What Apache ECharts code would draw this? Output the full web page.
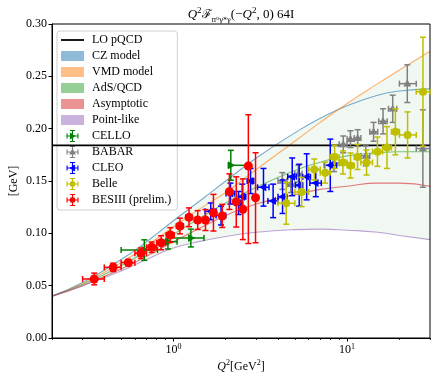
<!DOCTYPE html>
<html>
<head>
<meta charset="utf-8">
<script src="https://cdn.jsdelivr.net/npm/echarts@6/dist/echarts.min.js"></script>
<style>
  html, body { margin: 0; padding: 0; background: #fff; }
  #chart { width: 438px; height: 382px; }
</style>
</head>
<body>
<div id="chart"></div>
<script>
// model curves at these Q^2 values [GeV^2]
const qModel     = [0.2, 0.3, 0.5, 0.7, 1, 1.5, 2, 3, 5, 7, 10, 15, 20, 30];
const czModel    = [0.040, 0.053, 0.075, 0.092, 0.112, 0.134, 0.150, 0.172, 0.196, 0.210, 0.222, 0.232, 0.236, 0.238];
const vmdModel   = [0.040, 0.052, 0.072, 0.088, 0.106, 0.126, 0.139, 0.161, 0.188, 0.206, 0.224, 0.243, 0.256, 0.274];
const adsModel   = [0.040, 0.051, 0.069, 0.083, 0.099, 0.117, 0.129, 0.144, 0.160, 0.168, 0.174, 0.177, 0.178, 0.178];
const asymModel  = [0.040, 0.050, 0.066, 0.078, 0.092, 0.107, 0.117, 0.128, 0.137, 0.142, 0.145, 0.148, 0.148, 0.145];
const pointModel = [0.040, 0.050, 0.064, 0.075, 0.086, 0.093, 0.097, 0.101, 0.1035, 0.104, 0.103, 0.101, 0.098, 0.094];
const loPQCD = 0.184;

// CELLO
const celloQ   = [0.68, 0.93, 1.26, 2.14];
const celloY   = [0.084, 0.092, 0.0955, 0.165];
const celloErr = [0.0098, 0.007, 0.0085, 0.0143];
const celloQLo = [0.50, 0.85, 0.92, 2.07];
const celloQHi = [0.81, 1.05, 1.50, 2.66];

// BABAR
const babarQ   = [4.24, 4.74, 5.24, 8.40, 9.50, 10.45, 11.5, 12.8, 14.2, 16.1, 18.3, 22.2, 27.3];
const babarY   = [0.150, 0.147, 0.157, 0.167, 0.185, 0.190, 0.191, 0.174, 0.197, 0.207, 0.219, 0.243, 0.181];
const babarErr = [0.008, 0.008, 0.008, 0.008, 0.008, 0.008, 0.008, 0.0095, 0.009, 0.012, 0.013, 0.018, 0.037];
const babarQLo = [4.0, 4.5, 5.0, 8.0, 9.0, 10.0, 11.0, 12.0, 13.5, 15.2, 17.3, 20.0, 25.0];
const babarQHi = [4.5, 5.0, 5.5, 9.0, 10.0, 11.0, 12.0, 13.5, 15.0, 17.0, 19.3, 25.0, 30.0];

// CLEO
const cleoQ   = [1.64, 1.88, 2.13, 2.37, 2.49, 2.78, 3.30, 3.75, 4.25, 4.83, 5.30, 5.85, 6.60, 8.0];
const cleoY   = [0.121, 0.117, 0.138, 0.129, 0.135, 0.150, 0.144, 0.131, 0.135, 0.154, 0.146, 0.154, 0.148, 0.165];
const cleoErr = [0.008, 0.009, 0.010, 0.011, 0.012, 0.012, 0.018, 0.016, 0.016, 0.018, 0.020, 0.022, 0.013, 0.025];
const cleoQLo = [1.52, 1.76, 2.01, 2.25, 2.37, 2.66, 3.05, 3.50, 4.0, 4.55, 5.05, 5.55, 6.1, 7.4];
const cleoQHi = [1.76, 2.00, 2.25, 2.49, 2.61, 2.90, 3.55, 4.00, 4.5, 5.10, 5.55, 6.15, 7.1, 8.7];

// Belle
const belleQ   = [4.46, 5.47, 6.47, 7.47, 8.47, 9.46, 10.46, 11.48, 12.94, 14.95, 16.96, 18.96, 22.29, 27.33];
const belleY   = [0.1287, 0.1395, 0.161, 0.158, 0.173, 0.1677, 0.1648, 0.173, 0.1677, 0.178, 0.182, 0.197, 0.194, 0.2353];
const belleErr = [0.020, 0.014, 0.010, 0.010, 0.011, 0.011, 0.012, 0.012, 0.012, 0.014, 0.020, 0.022, 0.022, 0.052];
const belleQLo = [4, 5, 6, 7, 8, 9, 10, 11, 12, 14, 16, 18, 20, 25];
const belleQHi = [5, 6, 7, 8, 9, 10, 11, 12, 14, 16, 18, 20, 25, 30];

// BESIII (prelim.)
const besQ     = [0.35, 0.45, 0.55, 0.65, 0.75, 0.85, 0.96, 1.09, 1.23, 1.38, 1.53, 1.70, 1.91, 2.10, 2.30, 2.51, 2.70, 2.97];
const besY     = [0.0564, 0.0675, 0.0720, 0.0810, 0.0867, 0.0910, 0.0984, 0.1070, 0.1153, 0.1127, 0.1127, 0.1197, 0.1166, 0.1398, 0.1300, 0.1230, 0.1643, 0.1340];
const besErrLo = [0.0056, 0.004, 0.003, 0.005, 0.005, 0.0067, 0.007, 0.0075, 0.009, 0.009, 0.010, 0.0175, 0.011, 0.017, 0.024, 0.029, 0.074, 0.043];
const besErrHi = [0.0056, 0.004, 0.003, 0.005, 0.005, 0.0067, 0.007, 0.0075, 0.009, 0.009, 0.010, 0.0175, 0.011, 0.017, 0.024, 0.029, 0.049, 0.043];
const besQErr  = 0.05;

const FONT = 'Liberation Serif';

// envelope of all models (light green band)
const envLow  = qModel.map((q, i) => Math.min(czModel[i], vmdModel[i], adsModel[i], asymModel[i], pointModel[i]));
const envHigh = qModel.map((q, i) => Math.max(czModel[i], vmdModel[i], adsModel[i], asymModel[i], pointModel[i]));

const chart = echarts.init(document.getElementById('chart'));

function modelSeries(name, vals, color) {
  return {
    name: name, type: 'line', smooth: true, showSymbol: false, z: 2,
    data: qModel.map((q, i) => [q, vals[i]]),
    itemStyle: { color: color },
    lineStyle: { color: color, width: 1.1, opacity: 0.6 },
    silent: true
  };
}

function markerShape(kind, c, s, color) {
  const st = { fill: color };
  if (kind === 'circle') return { type: 'circle', shape: { cx: c[0], cy: c[1], r: s }, style: st };
  let pts;
  if (kind === 'up') pts = [[c[0], c[1] - s * 1.1], [c[0] + s, c[1] + s * 0.7], [c[0] - s, c[1] + s * 0.7]];
  else if (kind === 'left') pts = [[c[0] - s * 1.1, c[1]], [c[0] + s * 0.7, c[1] - s], [c[0] + s * 0.7, c[1] + s]];
  else pts = [[c[0] + s * 1.1, c[1]], [c[0] - s * 0.7, c[1] + s], [c[0] - s * 0.7, c[1] - s]];
  return { type: 'polygon', shape: { points: pts }, style: st };
}

function errSeries(name, color, kind, size, q, y, qLo, qHi, yLo, yHi) {
  const data = q.map((v, i) => [v, y[i], qLo[i], qHi[i], yLo[i], yHi[i]]);
  return {
    name: name, type: 'custom', z: 6, data: data,
    encode: { x: 0, y: 1 },
    itemStyle: { color: color },
    renderItem: function (params, api) {
      const yv = api.value(1);
      const c = api.coord([api.value(0), yv]);
      const l = api.coord([api.value(2), yv]);
      const r = api.coord([api.value(3), yv]);
      const b = api.coord([api.value(0), api.value(4)]);
      const t = api.coord([api.value(0), api.value(5)]);
      const st = { stroke: color, lineWidth: 1.5 };
      const cap = 3;
      return {
        type: 'group',
        children: [
          { type: 'line', shape: { x1: l[0], y1: c[1], x2: r[0], y2: c[1] }, style: st },
          { type: 'line', shape: { x1: c[0], y1: b[1], x2: c[0], y2: t[1] }, style: st },
          { type: 'line', shape: { x1: l[0], y1: c[1] - cap, x2: l[0], y2: c[1] + cap }, style: st },
          { type: 'line', shape: { x1: r[0], y1: c[1] - cap, x2: r[0], y2: c[1] + cap }, style: st },
          { type: 'line', shape: { x1: c[0] - cap, y1: b[1], x2: c[0] + cap, y2: b[1] }, style: st },
          { type: 'line', shape: { x1: c[0] - cap, y1: t[1], x2: c[0] + cap, y2: t[1] }, style: st },
          markerShape(kind, c, size, color)
        ]
      };
    }
  };
}

function errIcon(kind) {
  const bars = 'M7.3 1H8.7V15H7.3Z M1 7.3H15V8.7H1Z M5 1H11V2.3H5Z M5 13.7H11V15H5Z M1 5H2.3V11H1Z M13.7 5H15V11H13.7Z';
  let m;
  if (kind === 'circle') m = 'M11.6 8L10.55 10.55L8 11.6L5.45 10.55L4.4 8L5.45 5.45L8 4.4L10.55 5.45Z';
  else if (kind === 'up') m = 'M8 3.8L12 11L4 11Z';
  else if (kind === 'left') m = 'M3.8 8L11 4L11 12Z';
  else m = 'M12.2 8L5 12L5 4Z';
  return 'path://' + bars + ' ' + m;
}

const upper = (v, e) => v.map((x, i) => x + e[i]);
const lower = (v, e) => v.map((x, i) => x - e[i]);

const rectIcon = 'path://M0 0H23V10H0Z';

const option = {
  animation: false,
  grid: { left: 52, right: 8, top: 24, bottom: 44, show: true, z: 3, borderColor: '#000', borderWidth: 1, backgroundColor: 'transparent' },
  legend: {
    left: 57, top: 31, orient: 'vertical',
    padding: [3, 6, 4, 4], itemGap: 4, itemWidth: 23, itemHeight: 12,
    backgroundColor: 'rgba(255,255,255,0.8)', borderColor: '#d0d0d0', borderWidth: 1, borderRadius: 3,
    selectedMode: false,
    textStyle: { fontFamily: FONT, fontSize: 12, color: '#000', padding: [0, 0, 0, 3] },
    data: [
      { name: 'LO pQCD', icon: 'path://M0 0H23V1.8H0Z', itemStyle: { color: '#000' } },
      { name: 'CZ model', icon: rectIcon, itemStyle: { color: 'rgba(31,119,180,0.5)' } },
      { name: 'VMD model', icon: rectIcon, itemStyle: { color: 'rgba(255,127,14,0.5)' } },
      { name: 'AdS/QCD', icon: rectIcon, itemStyle: { color: 'rgba(44,160,44,0.5)' } },
      { name: 'Asymptotic', icon: rectIcon, itemStyle: { color: 'rgba(214,39,40,0.5)' } },
      { name: 'Point-like', icon: rectIcon, itemStyle: { color: 'rgba(148,103,189,0.5)' } },
      { name: 'CELLO', icon: errIcon('right'), itemStyle: { color: '#008000' } },
      { name: 'BABAR', icon: errIcon('up'), itemStyle: { color: '#808080' } },
      { name: 'CLEO', icon: errIcon('left'), itemStyle: { color: '#0000ff' } },
      { name: 'Belle', icon: errIcon('circle'), itemStyle: { color: '#bfbf00' } },
      { name: 'BESIII (prelim.)', icon: errIcon('circle'), itemStyle: { color: '#ff0000' } }
    ]
  },
  xAxis: [{
    type: 'log', logBase: 10, min: 0.2, max: 30, z: 3,
    axisLine: { lineStyle: { color: '#000', width: 1 } },
    axisTick: { length: 3.5, lineStyle: { color: '#000' }, customValues: [1, 10] },
    splitLine: { show: false },
    axisLabel: {
      customValues: [1, 10], margin: 5,
      fontFamily: FONT, fontSize: 12, color: '#000', lineHeight: 14,
      formatter: function (v) { return '10{s|' + Math.round(Math.log10(v)) + '}'; },
      rich: { s: { fontFamily: FONT, fontSize: 8, lineHeight: 8, verticalAlign: 'top', color: '#000' } }
    }
  }, {
    type: 'log', logBase: 10, min: 0.2, max: 30, position: 'bottom', gridIndex: 0, z: 3,
    axisLine: { show: false },
    axisTick: { length: 2, lineStyle: { color: '#000', width: 0.8 }, customValues: [0.2, 0.3, 0.4, 0.5, 0.6, 0.7, 0.8, 0.9, 2, 3, 4, 5, 6, 7, 8, 9, 20, 30] },
    axisLabel: { show: false },
    splitLine: { show: false }
  }],
  yAxis: {
    type: 'value', min: 0, max: 0.3, interval: 0.05, z: 3,
    axisLine: { show: true, lineStyle: { color: '#000', width: 1 } },
    axisTick: { show: true, length: 3.5, lineStyle: { color: '#000' } },
    splitLine: { show: false },
    axisLabel: { fontFamily: FONT, fontSize: 12, color: '#000', margin: 5, formatter: v => v.toFixed(2) }
  },
  graphic: [
    {
      type: 'text', x: 241, y: 15, z: 10,
      style: {
        text: '{i|Q}{sup|2}{f|ℱ}{sub|π⁰γ*γ}(−{i|Q}{sup|2}, 0) 64I',
        fontFamily: FONT, fontSize: 13, fill: '#000', align: 'center', verticalAlign: 'middle', lineHeight: 18,
        rich: {
          i: { fontFamily: FONT, fontSize: 13, fontStyle: 'italic', fill: '#000', lineHeight: 18 },
          sup: { fontFamily: FONT, fontSize: 9, lineHeight: 9, verticalAlign: 'top', fill: '#000' },
          f: { fontFamily: 'DejaVu Serif', fontSize: 12, fill: '#000', lineHeight: 18 },
          sub: { fontFamily: 'DejaVu Serif', fontSize: 7, lineHeight: 7, verticalAlign: 'bottom', fill: '#000' }
        }
      }
    },
    {
      type: 'text', x: 241, y: 367, z: 10,
      style: {
        text: '{i|Q}{sup|2}[GeV{sup|2}]',
        fontFamily: FONT, fontSize: 12, fill: '#000', align: 'center', verticalAlign: 'middle', lineHeight: 16,
        rich: {
          i: { fontFamily: FONT, fontSize: 12, fontStyle: 'italic', fill: '#000', lineHeight: 16 },
          sup: { fontFamily: FONT, fontSize: 8, lineHeight: 8, verticalAlign: 'top', fill: '#000' }
        }
      }
    },
    {
      type: 'text', x: 14, y: 181, rotation: Math.PI / 2, z: 10,
      style: { text: '[GeV]', fontFamily: FONT, fontSize: 12, fill: '#000', align: 'center', verticalAlign: 'middle' }
    }
  ],
  series: [
    {
      // upper edge of the band, filled down to the axis
      name: 'envHigh', type: 'line', smooth: true, showSymbol: false, z: 1, silent: true,
      data: qModel.map((q, i) => [q, envHigh[i]]),
      lineStyle: { width: 0, opacity: 0 },
      areaStyle: { color: '#f1f7f1', opacity: 1 }
    },
    {
      // lower edge, white fill clears everything under it
      name: 'envLow', type: 'line', smooth: true, showSymbol: false, z: 1, silent: true,
      data: qModel.map((q, i) => [q, envLow[i]]),
      lineStyle: { width: 0, opacity: 0 },
      areaStyle: { color: '#ffffff', opacity: 1 }
    },
    modelSeries('CZ model', czModel, '#1f77b4'),
    modelSeries('VMD model', vmdModel, '#ff7f0e'),
    modelSeries('AdS/QCD', adsModel, '#2ca02c'),
    modelSeries('Asymptotic', asymModel, '#d62728'),
    modelSeries('Point-like', pointModel, '#9467bd'),
    {
      name: 'LO pQCD', type: 'line', showSymbol: false, z: 5, silent: true,
      data: [[qModel[0], loPQCD], [qModel[qModel.length - 1], loPQCD]],
      itemStyle: { color: '#000' },
      lineStyle: { color: '#000', width: 1.8 }
    },
    errSeries('CELLO', '#008000', 'right', 4, celloQ, celloY, celloQLo, celloQHi, lower(celloY, celloErr), upper(celloY, celloErr)),
    errSeries('BABAR', '#808080', 'up', 4, babarQ, babarY, babarQLo, babarQHi, lower(babarY, babarErr), upper(babarY, babarErr)),
    errSeries('CLEO', '#0000ff', 'left', 4, cleoQ, cleoY, cleoQLo, cleoQHi, lower(cleoY, cleoErr), upper(cleoY, cleoErr)),
    errSeries('Belle', '#bfbf00', 'circle', 4, belleQ, belleY, belleQLo, belleQHi, lower(belleY, belleErr), upper(belleY, belleErr)),
    errSeries('BESIII (prelim.)', '#ff0000', 'circle', 4.5, besQ, besY,
      besQ.map(q => q - besQErr), besQ.map(q => q + besQErr),
      lower(besY, besErrLo), upper(besY, besErrHi))
  ]
};

chart.setOption(option);
</script>
</body>
</html>
